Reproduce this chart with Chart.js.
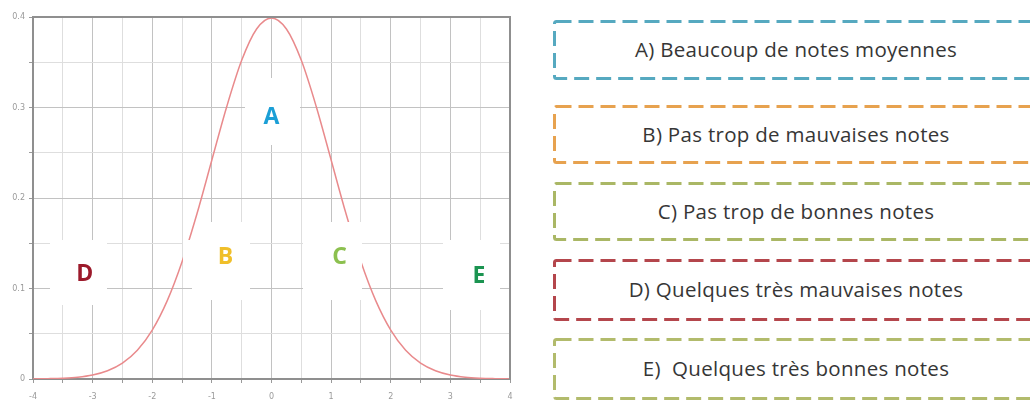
<!DOCTYPE html>
<html>
<head>
<meta charset="utf-8">
<script src="https://cdn.jsdelivr.net/npm/chart.js@4"></script>
<style>
  html, body { margin:0; padding:0; background:#fff; width:1030px; height:412px; overflow:hidden; }
  #wrap { position:absolute; left:0; top:0; width:525px; height:412px; }
  .box { position:absolute; left:553px; width:486px; }
  .box svg { position:absolute; left:0; top:0; }
  .box span { position:absolute; left:0; right:0; top:50%; transform:translateY(-54%);
    text-align:center; font-family:"Open Sans", sans-serif; font-size:20.5px; letter-spacing:0.3px;
    color:#363636; white-space:pre; }
</style>
</head>
<body>
<div id="wrap"><canvas id="c" width="525" height="412"></canvas></div>
<div id="boxes"></div>
<script>
// ---- data ----
const xValues = [-4,-3.75,-3.5,-3.25,-3,-2.75,-2.5,-2.25,-2,-1.75,-1.5,-1.25,-1,-0.75,-0.5,-0.25,0,
                 0.25,0.5,0.75,1,1.25,1.5,1.75,2,2.25,2.5,2.75,3,3.25,3.5,3.75,4];
const yValues = [0.0001,0.0004,0.0009,0.002,0.0044,0.0091,0.0175,0.0317,0.054,0.0863,0.1295,0.1826,0.242,0.3011,0.3521,0.3867,0.3989,
                 0.3867,0.3521,0.3011,0.242,0.1826,0.1295,0.0863,0.054,0.0317,0.0175,0.0091,0.0044,0.002,0.0009,0.0004,0.0001];
const xTickLabels = ['-4','-3','-2','-1','0','1','2','3','4'];
const yTickLabels = ['0','0.1','0.2','0.3','0.4'];
const zoneLetters = ['A','B','C','D','E'];
const zoneX = [0, -0.77, 1.14, -3.13, 3.48];
const zoneY = [0.289, 0.134, 0.134, 0.116, 0.113];
const zoneColors = ['#1b9fd6','#f0bf2a','#8cc04f','#9c1a2b','#1b9451'];
const legendTexts = ['A) Beaucoup de notes moyennes','B) Pas trop de mauvaises notes','C) Pas trop de bonnes notes',
                     'D) Quelques très mauvaises notes','E)  Quelques très bonnes notes'];
const legendColors = ['#56a9c0','#e7a24f','#aab765','#b4464c','#b2bb6c'];

// ---- legend boxes ----
const boxTop = [20, 105, 182, 259, 338];
const boxH = [60, 59, 59, 62, 62];
const boxesEl = document.getElementById('boxes');
legendTexts.forEach((t, i) => {
  const d = document.createElement('div');
  d.className = 'box';
  d.style.top = boxTop[i] + 'px';
  d.style.height = boxH[i] + 'px';
  const w = 486, h = boxH[i];
  d.innerHTML = `<svg width="${w}" height="${h}"><rect x="1.5" y="1.5" width="${w}" height="${h-3}" rx="2" fill="#fff"
     stroke="${legendColors[i]}" stroke-width="3" stroke-dasharray="15 7"/></svg><span></span>`;
  d.querySelector('span').textContent = t;
  boxesEl.appendChild(d);
});

// ---- chart ----
const points = xValues.map((x, i) => ({ x, y: yValues[i] }));

function patch(chart, x0, x1, y0, y1) {
  const ctx = chart.ctx;
  ctx.save();
  ctx.fillStyle = '#ffffff';
  ctx.fillRect(x0, y0, x1 - x0, y1 - y0);
  ctx.restore();
}

const overlay = {
  id: 'overlay',
  beforeDatasetsDraw(chart) {
    patch(chart, 245, 300, 78, 145);   // A
    patch(chart, 192, 250, 222, 300);  // B grid
    patch(chart, 50, 107, 240, 305);   // D
    patch(chart, 443, 500, 240, 310);  // E
  },
  afterDatasetsDraw(chart) {
    patch(chart, 183, 250, 240, 282);  // B over curve
    patch(chart, 303, 362, 222, 300);  // C over curve
    const { ctx, scales: { x, y }, chartArea: a } = chart;
    ctx.save();
    ctx.strokeStyle = '#8f8f8f';
    ctx.lineWidth = 2;
    ctx.beginPath();
    ctx.moveTo(a.left, a.top); ctx.lineTo(a.right, a.top); ctx.lineTo(a.right, a.bottom);
    ctx.stroke();
    ctx.font = 'bold 23px "Open Sans", sans-serif';
    ctx.textAlign = 'center';
    ctx.textBaseline = 'middle';
    zoneLetters.forEach((l, i) => {
      ctx.fillStyle = zoneColors[i];
      ctx.fillText(l, x.getPixelForValue(zoneX[i]), y.getPixelForValue(zoneY[i]));
    });
    ctx.restore();
  }
};

new Chart(document.getElementById('c'), {
  type: 'line',
  data: {
    datasets: [{
      data: points,
      borderColor: '#e98a8c',
      borderWidth: 1.5,
      pointRadius: 0,
      fill: false,
      cubicInterpolationMode: 'monotone'
    }]
  },
  options: {
    responsive: false,
    devicePixelRatio: 1,
    animation: false,
    events: [],
    layout: { padding: { top: 17, right: 15, left: 0, bottom: 0 } },
    plugins: { legend: { display: false }, tooltip: { enabled: false }, title: { display: false } },
    scales: {
      x: {
        type: 'linear', min: -4, max: 4,
        afterFit(s) { s.height = 33; },
        ticks: {
          stepSize: 0.5, autoSkip: false, maxRotation: 0, padding: 9,
          color: '#9a9a9a', font: { size: 8, family: 'DejaVu Sans' },
          callback(v) { const i = xTickLabels.indexOf(String(v)); return i >= 0 ? xTickLabels[i] : ''; }
        },
        grid: {
          color: c => (Number.isInteger(c.tick && c.tick.value) ? '#c2c2c2' : '#dedede'),
          tickColor: '#9a9a9a', tickLength: 4, lineWidth: 1
        },
        border: { color: '#8f8f8f', width: 2 }
      },
      y: {
        min: 0, max: 0.4,
        afterFit(s) { s.width = 33; },
        ticks: {
          stepSize: 0.05, autoSkip: false, padding: 4,
          color: '#9a9a9a', font: { size: 8, family: 'DejaVu Sans' },
          callback(v) { const r = Math.round(v * 100) / 100; const s = String(r); return yTickLabels.includes(s) ? s : ''; }
        },
        grid: {
          color: c => { const v = Math.round((c.tick ? c.tick.value : 0) * 100); return v % 10 === 0 ? '#c2c2c2' : '#dedede'; },
          tickColor: '#9a9a9a', tickLength: 4, lineWidth: 1
        },
        border: { color: '#8f8f8f', width: 2 }
      }
    }
  },
  plugins: [overlay]
});
</script>
</body>
</html>
